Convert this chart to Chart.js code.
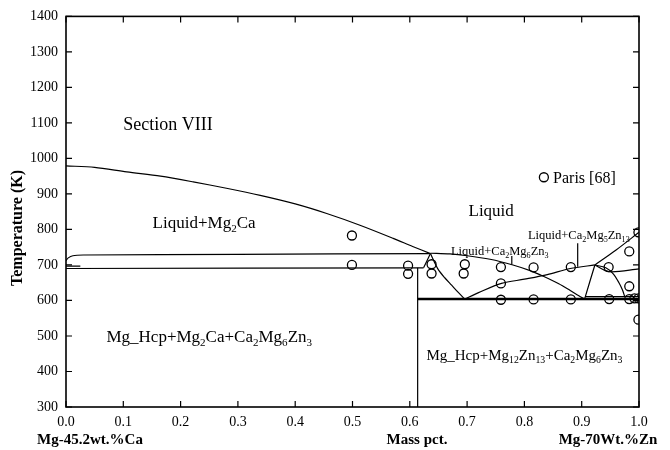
<!DOCTYPE html>
<html>
<head>
<meta charset="utf-8">
<script src="https://cdn.jsdelivr.net/npm/chart.js@4/dist/chart.umd.min.js"></script>
<style>
  body { margin: 0; background: #fff; }
  #wrap { width: 670px; height: 450px; }
</style>
</head>
<body>
<div id="wrap"><canvas id="myChart" width="670" height="450"></canvas></div>
<script>
// axis ticks
var xTicks = [0, 0.1, 0.2, 0.3, 0.4, 0.5, 0.6, 0.7, 0.8, 0.9, 1.0];
var yTicks = [300, 400, 500, 600, 700, 800, 900, 1000, 1100, 1200, 1300, 1400];

// phase boundaries, [mass pct, T(K)]
var liqMg2Ca   = [[0,979],[0.05,975],[0.106,962],[0.165,950],[0.222,934],[0.28,916],[0.339,896],[0.4,872],[0.455,845],[0.513,812],[0.571,775],[0.605,752],[0.636,732]];
var line730    = [[0,712],[0.004,720],[0.012,726],[0.03,728],[0.3,730],[0.636,732]];
var line690    = [[0,690],[0.624,692]];
var stub697    = [[0,697],[0.025,697]];
var link692    = [[0.624,692],[0.636,732]];
var vert061    = [[0.6137,692],[0.6137,300]];
var eut604     = [[0.6137,604],[1,604]];
var line611    = [[0.906,611],[1,611]];
var liqDownA   = [[0.636,732],[0.643,708],[0.650,686],[0.661,664],[0.673,643],[0.685,622],[0.696,604]];
var liqUp      = [[0.696,604],[0.72,622],[0.76,648],[0.80,660],[0.84,673],[0.88,690],[0.923,700]];
var liqDownB   = [[0.636,733],[0.67,731],[0.70,726],[0.74,716],[0.78,700],[0.81,684],[0.833,668],[0.86,647],[0.88,628],[0.895,613],[0.905,604]];
var steep      = [[0.905,604],[0.923,700]];
var liqRight   = [[0.923,700],[0.96,742],[1,792]];
var rightMid   = [[0.923,700],[0.948,681],[1,689]];
var bowDown    = [[0.923,700],[0.942,692],[0.955,675],[0.965,650],[0.971,630],[0.975,611]];
var leader1    = [[0.893,761],[0.893,695]];
var leader2    = [[0.778,725],[0.778,701]];

// experimental points, Paris [68]
var parisX = [0.499,0.499,0.597,0.597,0.638,0.638,0.696,0.694,0.759,0.759,0.759,0.816,0.816,0.881,0.881,0.947,0.948,0.983,0.983,0.983,0.992,0.999,0.999,0.999];
var parisT = [783,700,698,675,702,676,702,676,694,648,602,693,603,694,603,694,604,738,640,604,606,606,792,546];

var curves = [liqMg2Ca, line730, line690, stub697, link692, vert061, eut604, line611, liqDownA, liqUp, liqDownB, steep, liqRight, rightMid, bowDown, leader1, leader2];

// labels: [text, x, T, size, align]; _{..} is subscript
var labels = [
  ['Section VIII', 0.178, 1096, 18, 'center'],
  ['Liquid+Mg_{2}Ca', 0.241, 820, 17, 'center'],
  ['Liquid', 0.742, 854, 17, 'center'],
  ['Liquid+Ca_{2}Mg_{5}Zn_{13}', 0.895, 784, 12.5, 'center'],
  ['Liquid+Ca_{2}Mg_{6}Zn_{3}', 0.757, 739, 12.5, 'center'],
  ['Mg_Hcp+Mg_{2}Ca+Ca_{2}Mg_{6}Zn_{3}', 0.25, 498, 17, 'center'],
  ['Mg_Hcp+Mg_{12}Zn_{13}+Ca_{2}Mg_{6}Zn_{3}', 0.80, 447, 15, 'center'],
  ['Paris [68]', 0.85, 947, 16, 'left']
];

var FONT = "'Liberation Serif', 'Times New Roman', serif";

function splitText(s) {
  var parts = [];
  var re = /_\{([^}]*)\}/g, last = 0, m;
  while ((m = re.exec(s)) !== null) {
    if (m.index > last) parts.push([s.slice(last, m.index), false]);
    parts.push([m[1], true]);
    last = re.lastIndex;
  }
  if (last < s.length) parts.push([s.slice(last), false]);
  return parts;
}

function drawRich(ctx, s, x, y, size, align) {
  var parts = splitText(s);
  var subSize = size * 0.65;
  var w = 0;
  parts.forEach(function(p) {
    ctx.font = (p[1] ? subSize : size) + 'px ' + FONT;
    w += ctx.measureText(p[0]).width;
  });
  var cx = align == 'center' ? x - w / 2 : x;
  ctx.textAlign = 'left';
  ctx.textBaseline = 'alphabetic';
  var base = y + size * 0.33;
  parts.forEach(function(p) {
    ctx.font = (p[1] ? subSize : size) + 'px ' + FONT;
    ctx.fillText(p[0], cx, p[1] ? base + size * 0.22 : base);
    cx += ctx.measureText(p[0]).width;
  });
}

var decor = {
  id: 'decor',
  afterDatasetsDraw: function(chart) {
    var ctx = chart.ctx, a = chart.chartArea;
    var xs = chart.scales.x, ys = chart.scales.y;
    ctx.save();
    ctx.strokeStyle = '#000';
    ctx.fillStyle = '#000';
    // frame
    ctx.lineWidth = 1.6;
    ctx.strokeRect(a.left, a.top, a.right - a.left, a.bottom - a.top);
    // inward ticks
    ctx.lineWidth = 1.2;
    ctx.beginPath();
    xTicks.forEach(function(v) {
      var px = xs.getPixelForValue(v);
      ctx.moveTo(px, a.bottom); ctx.lineTo(px, a.bottom - 6);
      ctx.moveTo(px, a.top); ctx.lineTo(px, a.top + 6);
    });
    yTicks.forEach(function(v) {
      var py = ys.getPixelForValue(v);
      ctx.moveTo(a.left, py); ctx.lineTo(a.left + 6, py);
      ctx.moveTo(a.right, py); ctx.lineTo(a.right - 6, py);
    });
    ctx.stroke();
    // labels
    labels.forEach(function(l) {
      drawRich(ctx, l[0], xs.getPixelForValue(l[1]), ys.getPixelForValue(l[2]), l[3], l[4]);
    });
    // legend marker
    ctx.lineWidth = 1.3;
    ctx.beginPath();
    ctx.arc(xs.getPixelForValue(0.834), ys.getPixelForValue(947), 4.5, 0, Math.PI * 2);
    ctx.stroke();
    // axis titles
    ctx.font = 'bold 15px ' + FONT;
    ctx.textAlign = 'center';
    ctx.textBaseline = 'middle';
    ctx.fillText('Mg-45.2wt.%Ca', 90, 440);
    ctx.fillText('Mass pct.', 417, 440);
    ctx.fillText('Mg-70Wt.%Zn', 608, 440);
    ctx.translate(18, 228);
    ctx.rotate(-Math.PI / 2);
    ctx.font = 'bold 16px ' + FONT;
    ctx.fillText('Temperature (K)', 0, 0);
    ctx.restore();
  }
};

var datasets = curves.map(function(c) {
  return {
    data: c.map(function(p) { return {x: p[0], y: p[1]}; }),
    showLine: true,
    borderColor: '#000',
    borderWidth: c === eut604 ? 2.4 : 1.2,
    pointRadius: 0,
    tension: 0.3,
    fill: false
  };
});
datasets.push({
  data: parisX.map(function(x, i) { return {x: x, y: parisT[i]}; }),
  showLine: false,
  pointStyle: 'circle',
  pointRadius: 4.5,
  pointBackgroundColor: 'rgba(255,255,255,0)',
  pointBorderColor: '#000',
  pointBorderWidth: 1.3
});

Chart.defaults.font.family = FONT;
Chart.defaults.color = '#000';

var ctx = document.getElementById('myChart');
var myChart = new Chart(ctx, {
  type: 'scatter',
  data: { datasets: datasets },
  options: {
    responsive: false,
    devicePixelRatio: 1,
    animation: false,
    layout: { padding: { top: 16, right: 31, left: 0, bottom: 0 } },
    plugins: { legend: { display: false }, tooltip: { enabled: false } },
    scales: {
      x: {
        type: 'linear', min: 0, max: 1,
        grid: { display: false, drawTicks: false },
        border: { display: false },
        afterBuildTicks: function(s) { s.ticks = xTicks.map(function(v) { return {value: v}; }); },
        ticks: { font: { size: 14 }, padding: 7, maxRotation: 0,
                 callback: function(v) { return Number(v).toFixed(1); } },
        afterFit: function(s) { s.height = 43; }
      },
      y: {
        type: 'linear', min: 300, max: 1400,
        grid: { display: false, drawTicks: false },
        border: { display: false },
        afterBuildTicks: function(s) { s.ticks = yTicks.map(function(v) { return {value: v}; }); },
        ticks: { font: { size: 14 }, padding: 8,
                 callback: function(v) { return String(v); } },
        afterFit: function(s) { s.width = 66; }
      }
    }
  },
  plugins: [decor]
});
</script>
</body>
</html>
